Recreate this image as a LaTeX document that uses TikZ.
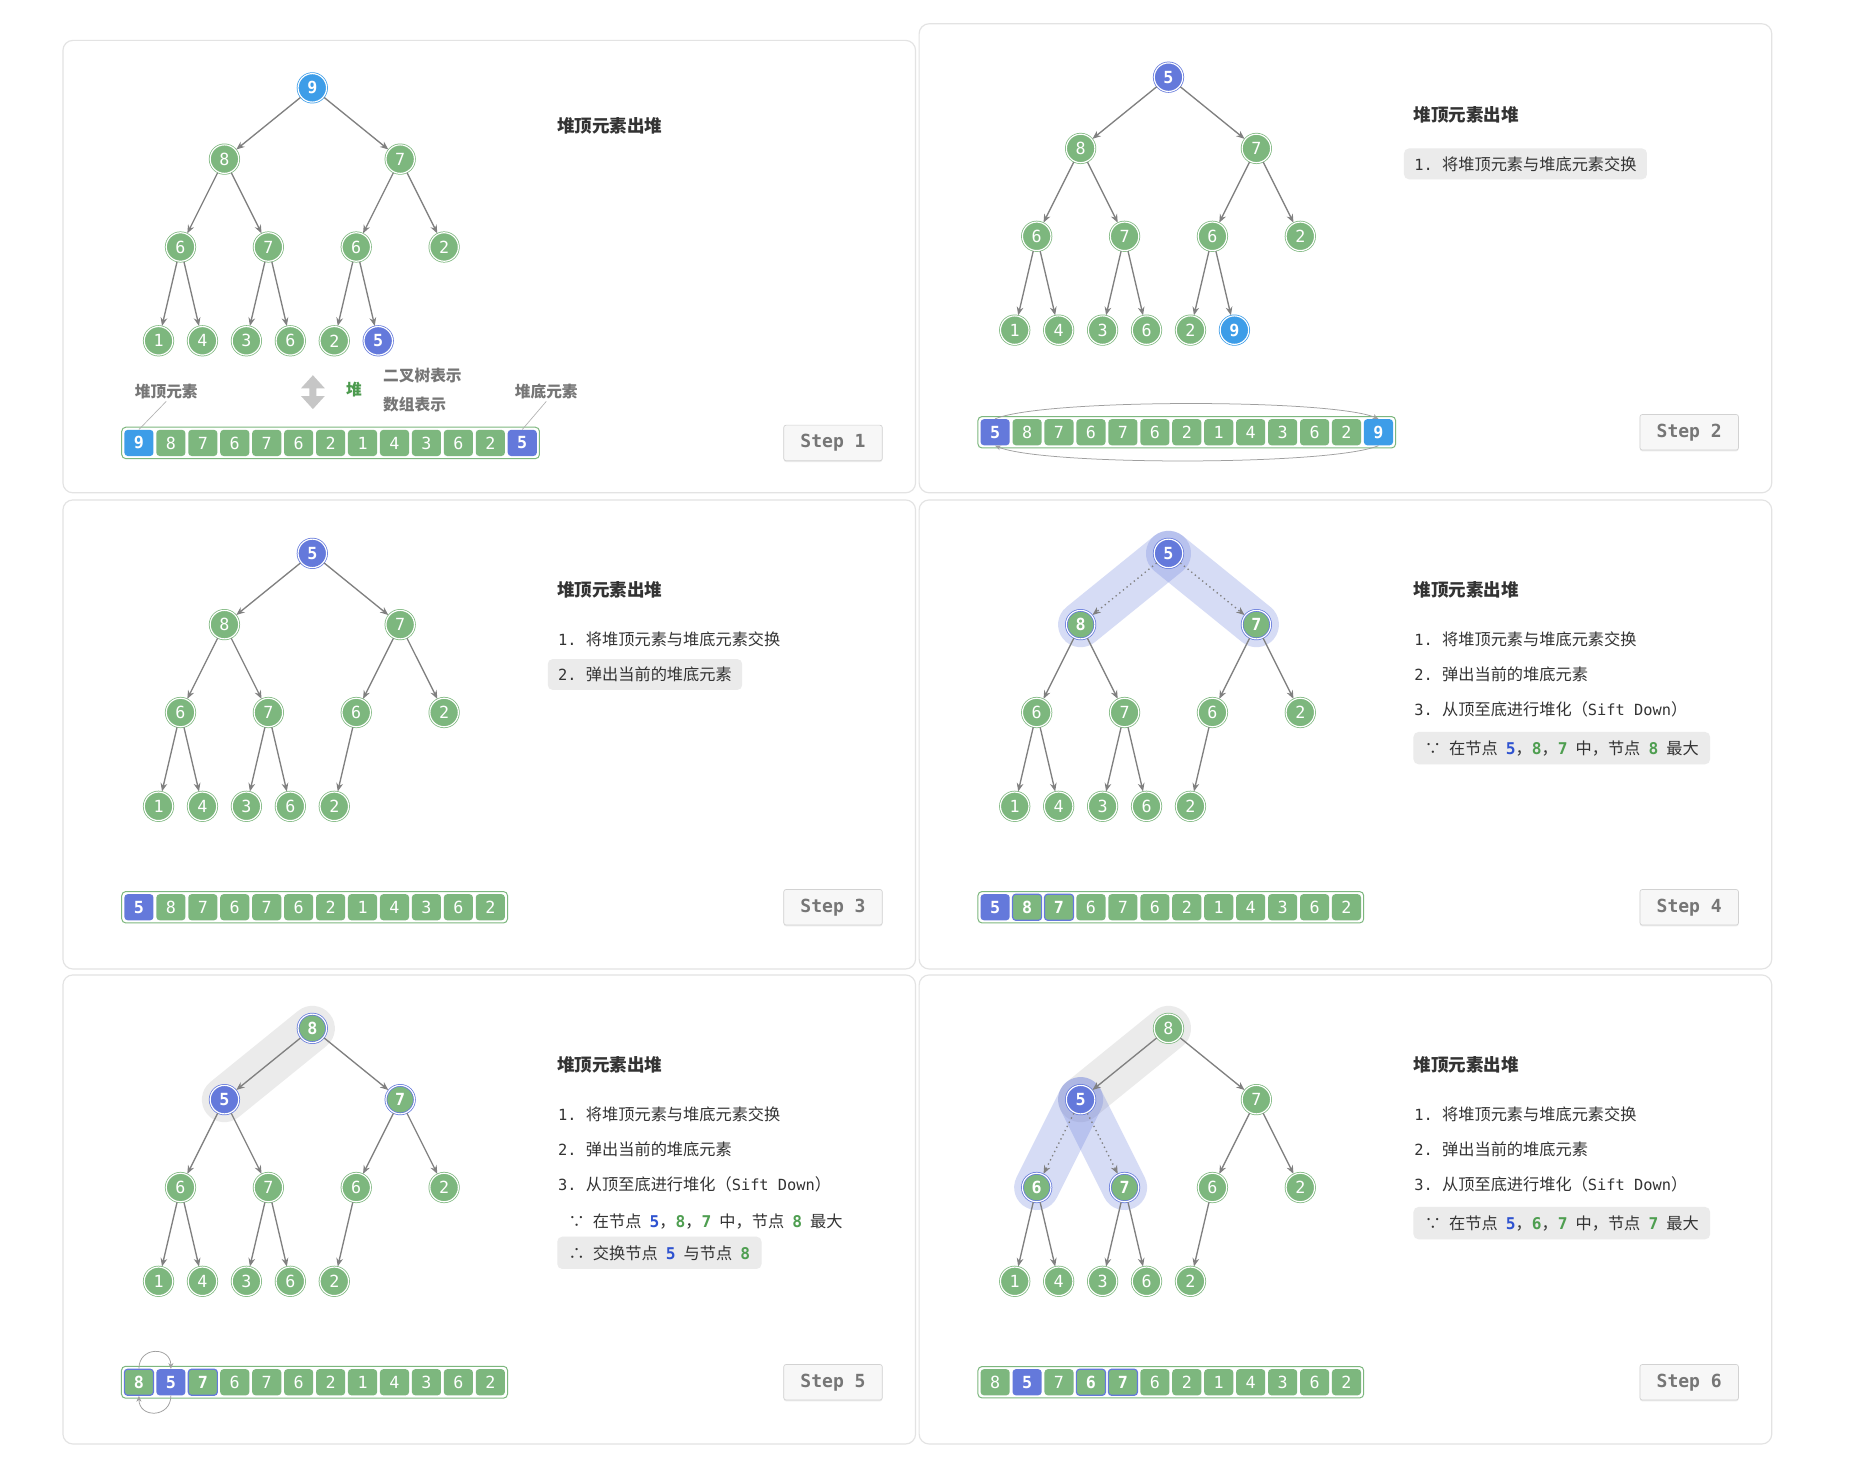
\documentclass[tikz,border=0pt]{standalone}
\usepackage{fontspec}
\setmainfont{Noto Sans CJK SC}
\setmonofont{DejaVu Sans Mono}
\usetikzlibrary{arrows.meta, fit, shadows}

\definecolor{grn}{HTML}{7DB77E}
\definecolor{ind}{HTML}{6479DB}
\definecolor{lbl}{HTML}{3D9DE8}
\definecolor{edgegray}{HTML}{808080}
\definecolor{txt}{HTML}{333333}
\definecolor{lblgray}{HTML}{767676}
\definecolor{hlbox}{HTML}{EBEBEB}
\definecolor{numblue}{HTML}{2E52D0}
\definecolor{numgreen}{HTML}{4E9E50}
\definecolor{heapgreen}{HTML}{4C9A4E}

\newcommand{\numb}[1]{{\ttfamily\bfseries\color{numblue}#1}}
\newcommand{\numg}[1]{{\ttfamily\bfseries\color{numgreen}#1}}
\newcommand{\idx}[1]{{\ttfamily\fontsize{9.2}{12}\selectfont #1}}
\newcommand{\numsp}{\hspace{0.5em}}
% heap index / x / y inside one panel
\def\heappos{0/210/45, 1/136/105, 2/284/105, 3/99/179, 4/173/179, 5/247/179, 6/321/179,
  7/80.5/258, 8/117.5/258, 9/154.5/258, 10/191.5/258, 11/228.5/258, 12/265.5/258}

\tikzset{
  hnode/.style={circle, minimum size=0.6cm, inner sep=0pt, outer sep=0.6pt, line width=0.45pt,
    double=white, double distance=0.7pt, text=white, font=\ttfamily\fontsize{10}{10}\selectfont},
  gnode/.style={hnode, draw=grn, fill=grn},
  bnode/.style={hnode, draw=ind, fill=ind, font=\ttfamily\bfseries\fontsize{10}{10}\selectfont},
  lbnode/.style={hnode, draw=lbl, fill=lbl, font=\ttfamily\bfseries\fontsize{10}{10}\selectfont},
  rnode/.style={hnode, draw=ind, fill=grn, font=\ttfamily\bfseries\fontsize{10}{10}\selectfont},
  cell/.style={rectangle, rounded corners=2pt, minimum width=0.6125cm, minimum height=0.55cm,
    inner sep=0pt, text=white, font=\ttfamily\fontsize{10}{10}\selectfont},
  gcell/.style={cell, fill=grn},
  bcell/.style={cell, fill=ind, font=\ttfamily\bfseries\fontsize{10}{10}\selectfont},
  lbcell/.style={cell, fill=lbl, font=\ttfamily\bfseries\fontsize{10}{10}\selectfont},
  rcell/.style={cell, fill=grn, draw=ind, line width=0.7pt, font=\ttfamily\bfseries\fontsize{10}{10}\selectfont},
  arrframe/.style={draw=grn, line width=0.6pt, rounded corners=2.5pt, inner sep=1.4pt},
  heapedge/.style={draw=edgegray, line width=0.8pt, -{Stealth[length=5pt,width=4pt]}},
  dotedge/.style={heapedge, dotted},
  swaparc/.style={draw=gray!75, line width=0.45pt, -{Stealth[length=3.5pt,width=3pt]}},
  bband/.style={draw=ind, draw opacity=0.26, line width=0.95cm, line cap=round},
  gband/.style={draw=black, draw opacity=0.08, line width=0.95cm, line cap=round},
  panelbox/.style={draw=gray!22, line width=0.7pt, rounded corners=6pt, fill=white},
  ttl/.style={anchor=west, inner sep=0pt, text=txt, font=\bfseries\fontsize{10.5}{12}\selectfont},
  item/.style={anchor=west, inner xsep=0.22cm, inner ysep=0pt, minimum height=0.65cm,
    rounded corners=3pt, text=txt, font=\fontsize{9.7}{12}\selectfont},
  hlitem/.style={item, fill=hlbox},
  note/.style={item, inner xsep=0.24cm, minimum height=0.68cm},
  hlnote/.style={note, fill=hlbox},
  annot/.style={inner sep=1pt, text=lblgray, font=\bfseries\fontsize{9.4}{11}\selectfont},
  leader/.style={draw=gray!60, line width=0.4pt},
  stepbtn/.style={draw=gray!35, fill=gray!6, rounded corners=1.5pt, minimum width=2.075cm,
    minimum height=0.75cm, text=lblgray, font=\ttfamily\bfseries\fontsize{10.8}{12}\selectfont,
    drop shadow={shadow xshift=0pt, shadow yshift=-0.8pt, opacity=0.15}}
}

\begin{document}
\begin{tikzpicture}[x=0.025cm, y=-0.025cm]
  \useasboundingbox (0,0) rectangle (1568,1241);
  \fill[white] (0,0) rectangle (1568,1241);

  % ---------- Step 1 ----------
  \begin{scope}[shift={(53,29)}]
    \draw[panelbox] (0,5) rectangle (718,386);
    \foreach \i/\x/\y in \heappos \coordinate (h\i) at (\x,\y);
    \foreach \i/\v/\s in {0/9/lbnode, 1/8/gnode, 2/7/gnode, 3/6/gnode, 4/7/gnode, 5/6/gnode, 6/2/gnode,
      7/1/gnode, 8/4/gnode, 9/3/gnode, 10/6/gnode, 11/2/gnode, 12/5/bnode}
      \node[\s] (t1-\i) at (h\i) {\v};
    \foreach \c in {1,...,12} {
      \pgfmathtruncatemacro\pa{(\c-1)/2}
      \draw[heapedge] (t1-\pa) -- (t1-\c);
    }
    \foreach \i/\v/\s in {0/9/lbcell, 1/8/gcell, 2/7/gcell, 3/6/gcell, 4/7/gcell, 5/6/gcell, 6/2/gcell,
      7/1/gcell, 8/4/gcell, 9/3/gcell, 10/6/gcell, 11/2/gcell, 12/5/bcell}
      \node[\s] (a1-\i) at ({64+26.9*\i},344) {\v};
    \node[arrframe, fit=(a1-0)(a1-12)] (f1) {};
    \node[annot] (lbtop) at (87,301) {堆顶元素};
    \node[annot] (lbbot) at (407,301) {堆底元素};
    \draw[leader] (lbtop.south) -- (a1-0.north);
    \draw[leader] (lbbot.south) -- (a1-12.north);
    \fill[gray!45] (210.5,287) -- (220.5,298) -- (213.5,298) -- (213.5,304.5) -- (220.5,304.5)
      -- (210.5,315.5) -- (200.5,304.5) -- (207.5,304.5) -- (207.5,298) -- (200.5,298) -- cycle;
    \node[annot, text=heapgreen] (heap) at (245,299) {堆};
    \node[annot, anchor=west] (astree) at (268,287) {二叉树表示};
    \node[annot, anchor=west] (asarr) at (268,312) {数组表示};
    \node[ttl] (ttl1) at (416,77) {堆顶元素出堆};
    \node[stepbtn] (s1) at (648.5,344) {Step 1};
  \end{scope}

  % ---------- Step 2 ----------
  \begin{scope}[shift={(774,20)}]
    \draw[panelbox] (0,0) rectangle (718,395);
    \foreach \i/\x/\y in \heappos \coordinate (h\i) at (\x,\y);
    \foreach \i/\v/\s in {0/5/bnode, 1/8/gnode, 2/7/gnode, 3/6/gnode, 4/7/gnode, 5/6/gnode, 6/2/gnode,
      7/1/gnode, 8/4/gnode, 9/3/gnode, 10/6/gnode, 11/2/gnode, 12/9/lbnode}
      \node[\s] (t2-\i) at (h\i) {\v};
    \foreach \c in {1,...,12} {
      \pgfmathtruncatemacro\pa{(\c-1)/2}
      \draw[heapedge] (t2-\pa) -- (t2-\c);
    }
    \foreach \i/\v/\s in {0/5/bcell, 1/8/gcell, 2/7/gcell, 3/6/gcell, 4/7/gcell, 5/6/gcell, 6/2/gcell,
      7/1/gcell, 8/4/gcell, 9/3/gcell, 10/6/gcell, 11/2/gcell, 12/9/lbcell}
      \node[\s] (a2-\i) at ({64+26.9*\i},344) {\v};
    \node[arrframe, fit=(a2-0)(a2-12)] (f2) {};
    \draw[swaparc] (a2-0.north) .. controls +(40,-17) and +(-40,-17) .. (a2-12.north);
    \draw[swaparc] (a2-12.south) .. controls +(-40,17) and +(40,17) .. (a2-0.south);
    \node[ttl] (ttl2) at (416,77) {堆顶元素出堆};
    \node[hlitem] (i2-1) at (408,118) {\idx{1. }将堆顶元素与堆底元素交换};
    \node[stepbtn] (s2) at (648.5,344) {Step 2};
  \end{scope}

  % ---------- Step 3 ----------
  \begin{scope}[shift={(53,421)}]
    \draw[panelbox] (0,0) rectangle (718,395);
    \foreach \i/\x/\y in \heappos \coordinate (h\i) at (\x,\y);
    \foreach \i/\v/\s in {0/5/bnode, 1/8/gnode, 2/7/gnode, 3/6/gnode, 4/7/gnode, 5/6/gnode, 6/2/gnode,
      7/1/gnode, 8/4/gnode, 9/3/gnode, 10/6/gnode, 11/2/gnode}
      \node[\s] (t3-\i) at (h\i) {\v};
    \foreach \c in {1,...,11} {
      \pgfmathtruncatemacro\pa{(\c-1)/2}
      \draw[heapedge] (t3-\pa) -- (t3-\c);
    }
    \foreach \i/\v/\s in {0/5/bcell, 1/8/gcell, 2/7/gcell, 3/6/gcell, 4/7/gcell, 5/6/gcell, 6/2/gcell,
      7/1/gcell, 8/4/gcell, 9/3/gcell, 10/6/gcell, 11/2/gcell}
      \node[\s] (a3-\i) at ({64+26.9*\i},343) {\v};
    \node[arrframe, fit=(a3-0)(a3-11)] (f3) {};
    \node[ttl] (ttl3) at (416,76) {堆顶元素出堆};
    \node[item] (i3-1) at (408,117) {\idx{1. }将堆顶元素与堆底元素交换};
    \node[hlitem] (i3-2) at (408,147) {\idx{2. }弹出当前的堆底元素};
    \node[stepbtn] (s3) at (648.5,343) {Step 3};
  \end{scope}

  % ---------- Step 4 ----------
  \begin{scope}[shift={(774,421)}]
    \draw[panelbox] (0,0) rectangle (718,395);
    \foreach \i/\x/\y in \heappos \coordinate (h\i) at (\x,\y);
    \draw[bband] (h0) -- (h1);
    \draw[bband] (h0) -- (h2);
    \foreach \i/\v/\s in {0/5/bnode, 1/8/rnode, 2/7/rnode, 3/6/gnode, 4/7/gnode, 5/6/gnode, 6/2/gnode,
      7/1/gnode, 8/4/gnode, 9/3/gnode, 10/6/gnode, 11/2/gnode}
      \node[\s] (t4-\i) at (h\i) {\v};
    \foreach \c in {1,2} \draw[dotedge] (t4-0) -- (t4-\c);
    \foreach \c in {3,...,11} {
      \pgfmathtruncatemacro\pa{(\c-1)/2}
      \draw[heapedge] (t4-\pa) -- (t4-\c);
    }
    \foreach \i/\v/\s in {0/5/bcell, 1/8/rcell, 2/7/rcell, 3/6/gcell, 4/7/gcell, 5/6/gcell, 6/2/gcell,
      7/1/gcell, 8/4/gcell, 9/3/gcell, 10/6/gcell, 11/2/gcell}
      \node[\s] (a4-\i) at ({64+26.9*\i},343) {\v};
    \node[arrframe, fit=(a4-0)(a4-11)] (f4) {};
    \node[ttl] (ttl4) at (416,76) {堆顶元素出堆};
    \node[item] (i4-1) at (408,117) {\idx{1. }将堆顶元素与堆底元素交换};
    \node[item] (i4-2) at (408,147) {\idx{2. }弹出当前的堆底元素};
    \node[item] (i4-3) at (408,176) {\idx{3. }从顶至底进行堆化（\idx{Sift Down}）};
    \node[hlnote] (n4) at (416,209) {∵\numsp 在节点\numsp\numb{5}，\numg{8}，\numg{7}\numsp 中，节点\numsp\numg{8}\numsp 最大};
    \node[stepbtn] (s4) at (648.5,343) {Step 4};
  \end{scope}

  % ---------- Step 5 ----------
  \begin{scope}[shift={(53,821)}]
    \draw[panelbox] (0,0) rectangle (718,395);
    \foreach \i/\x/\y in \heappos \coordinate (h\i) at (\x,\y);
    \draw[gband] (h0) -- (h1);
    \foreach \i/\v/\s in {0/8/rnode, 1/5/bnode, 2/7/rnode, 3/6/gnode, 4/7/gnode, 5/6/gnode, 6/2/gnode,
      7/1/gnode, 8/4/gnode, 9/3/gnode, 10/6/gnode, 11/2/gnode}
      \node[\s] (t5-\i) at (h\i) {\v};
    \foreach \c in {1,...,11} {
      \pgfmathtruncatemacro\pa{(\c-1)/2}
      \draw[heapedge] (t5-\pa) -- (t5-\c);
    }
    \foreach \i/\v/\s in {0/8/rcell, 1/5/bcell, 2/7/rcell, 3/6/gcell, 4/7/gcell, 5/6/gcell, 6/2/gcell,
      7/1/gcell, 8/4/gcell, 9/3/gcell, 10/6/gcell, 11/2/gcell}
      \node[\s] (a5-\i) at ({64+26.9*\i},343) {\v};
    \node[arrframe, fit=(a5-0)(a5-11)] (f5) {};
    \draw[swaparc] (a5-0.north) .. controls +(0,-19) and +(0,-19) .. (a5-1.north);
    \draw[swaparc] (a5-1.south) .. controls +(0,19) and +(0,19) .. (a5-0.south);
    \node[ttl] (ttl5) at (416,76) {堆顶元素出堆};
    \node[item] (i5-1) at (408,117) {\idx{1. }将堆顶元素与堆底元素交换};
    \node[item] (i5-2) at (408,147) {\idx{2. }弹出当前的堆底元素};
    \node[item] (i5-3) at (408,176) {\idx{3. }从顶至底进行堆化（\idx{Sift Down}）};
    \node[note] (n5) at (416,208) {∵\numsp 在节点\numsp\numb{5}，\numg{8}，\numg{7}\numsp 中，节点\numsp\numg{8}\numsp 最大};
    \node[hlnote] (m5) at (416,234) {∴\numsp 交换节点\numsp\numb{5}\numsp 与节点\numsp\numg{8}};
    \node[stepbtn] (s5) at (648.5,343) {Step 5};
  \end{scope}

  % ---------- Step 6 ----------
  \begin{scope}[shift={(774,821)}]
    \draw[panelbox] (0,0) rectangle (718,395);
    \foreach \i/\x/\y in \heappos \coordinate (h\i) at (\x,\y);
    \draw[gband] (h0) -- (h1);
    \draw[bband] (h1) -- (h3);
    \draw[bband] (h1) -- (h4);
    \foreach \i/\v/\s in {0/8/gnode, 1/5/bnode, 2/7/gnode, 3/6/rnode, 4/7/rnode, 5/6/gnode, 6/2/gnode,
      7/1/gnode, 8/4/gnode, 9/3/gnode, 10/6/gnode, 11/2/gnode}
      \node[\s] (t6-\i) at (h\i) {\v};
    \foreach \c in {3,4} \draw[dotedge] (t6-1) -- (t6-\c);
    \foreach \c in {1,2,5,6,7,8,9,10,11} {
      \pgfmathtruncatemacro\pa{(\c-1)/2}
      \draw[heapedge] (t6-\pa) -- (t6-\c);
    }
    \foreach \i/\v/\s in {0/8/gcell, 1/5/bcell, 2/7/gcell, 3/6/rcell, 4/7/rcell, 5/6/gcell, 6/2/gcell,
      7/1/gcell, 8/4/gcell, 9/3/gcell, 10/6/gcell, 11/2/gcell}
      \node[\s] (a6-\i) at ({64+26.9*\i},343) {\v};
    \node[arrframe, fit=(a6-0)(a6-11)] (f6) {};
    \node[ttl] (ttl6) at (416,76) {堆顶元素出堆};
    \node[item] (i6-1) at (408,117) {\idx{1. }将堆顶元素与堆底元素交换};
    \node[item] (i6-2) at (408,147) {\idx{2. }弹出当前的堆底元素};
    \node[item] (i6-3) at (408,176) {\idx{3. }从顶至底进行堆化（\idx{Sift Down}）};
    \node[hlnote] (n6) at (416,209) {∵\numsp 在节点\numsp\numb{5}，\numg{6}，\numg{7}\numsp 中，节点\numsp\numg{7}\numsp 最大};
    \node[stepbtn] (s6) at (648.5,343) {Step 6};
  \end{scope}
\end{tikzpicture}
\end{document}
